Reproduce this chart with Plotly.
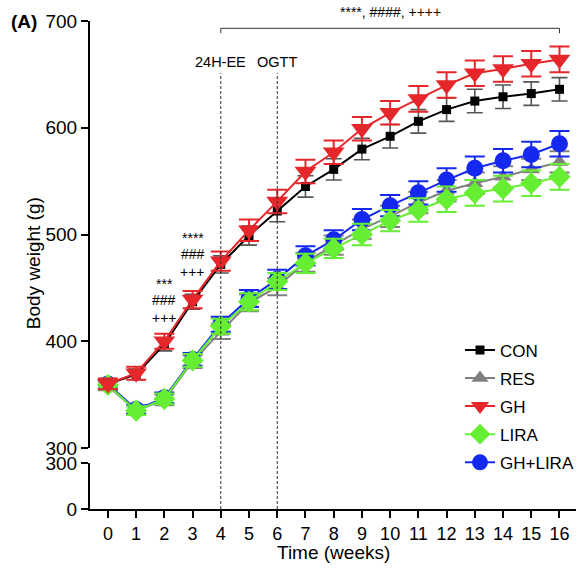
import plotly.graph_objects as go

weeks = list(range(17))
week_labels = [str(w) for w in weeks]

con = [360, 369, 397, 437, 472, 499, 522, 545, 561, 580, 592, 606, 617, 625, 629, 632, 636]
con_err = [5, 5, 6, 7, 8, 9, 10, 10, 10, 10, 11, 11, 11, 11, 11, 11, 11]
res = [358, 335, 345, 381, 409, 436, 451, 474, 490, 505, 517, 530, 541, 548, 554, 561, 568]
res_err = [4, 4, 5, 6, 7, 8, 8, 9, 9, 9, 10, 10, 10, 10, 10, 10, 10]
gh = [360, 370, 400, 439, 475, 504, 531, 559, 577, 599, 614, 627, 640, 651, 655, 660, 664]
gh_err = [5, 6, 7, 8, 9, 10, 11, 11, 11, 11, 11, 12, 12, 12, 12, 12, 12]
lira = [359, 335, 346, 382, 414, 437, 456, 473, 487, 500, 513, 523, 533, 539, 543, 548, 554]
lira_err = [4, 4, 5, 6, 7, 8, 8, 9, 9, 10, 10, 11, 12, 12, 12, 12, 12]
ghlira = [360, 336, 347, 383, 416, 440, 458, 480, 495, 514, 527, 539, 551, 562, 569, 575, 585]
ghlira_err = [4, 4, 5, 6, 7, 8, 9, 9, 9, 10, 10, 11, 11, 11, 11, 12, 12]

FONT = "Liberation Sans, Arial, sans-serif"

# (name, values, errors, color, symbol, size, legend rank) in drawing order
series = [
    ("RES", res, res_err, "#808080", "triangle-up", 15, 2),
    ("GH+LIRA", ghlira, ghlira_err, "#1428f0", "circle", 17, 5),
    ("LIRA", lira, lira_err, "#66ee33", "diamond", 17, 4),
    ("CON", con, con_err, "#000000", "square", 9, 1),
    ("GH", gh, gh_err, "#e5262b", "triangle-down", 19, 3),
]

fig = go.Figure()
for name, vals, errs, color, sym, size, rank in series:
    errcolor = "#555555" if name == "CON" else color
    fig.add_trace(go.Scatter(
        x=weeks, y=vals, name=name, mode="lines+markers",
        line=dict(color=color, width=2),
        marker=dict(color=color, symbol=sym, size=size, line=dict(width=0)),
        error_y=dict(type="data", array=errs, visible=True, color=errcolor,
                     thickness=1.6 if name == "CON" else 2, width=8 if name == "CON" else 10),
        xaxis="x", yaxis="y", legendrank=rank, legendgroup=name,
        cliponaxis=False,
    ))

# dummy trace so the lower axis segment renders
fig.add_trace(go.Scatter(x=[None], y=[None], xaxis="x", yaxis="y2",
                         showlegend=False, hoverinfo="skip"))

axis_common = dict(showline=True, linewidth=2, linecolor="black", ticks="outside",
                   ticklen=7, tickwidth=2, tickcolor="black", showgrid=False,
                   zeroline=False, color="black")

fig.update_layout(
    width=579, height=571,
    margin=dict(l=90, r=0, t=21, b=62),
    plot_bgcolor="white", paper_bgcolor="white",
    font=dict(family=FONT, color="black"),
    xaxis=dict(domain=[0, 1], range=[-0.634, 16.585], anchor="y2",
               tickvals=weeks, ticktext=week_labels, tickfont=dict(size=18), **axis_common),
    yaxis=dict(domain=[0.125, 1], range=[300, 700], anchor="x",
               tickvals=[300, 400, 500, 600, 700], tickfont=dict(size=19), **axis_common),
    yaxis2=dict(domain=[0, 0.0943], range=[0, 300], anchor="x",
                tickvals=[0, 300], tickfont=dict(size=19), **axis_common),
    showlegend=True,
    legend=dict(x=0.762, y=0.362, xanchor="left", yanchor="top",
                font=dict(size=17, family=FONT), bgcolor="rgba(0,0,0,0)",
                tracegroupgap=3, itemwidth=30, traceorder="grouped"),
)

shapes = []
for wk in [4, 6]:
    shapes.append(dict(type="line", xref="x", yref="paper", x0=wk, x1=wk, y0=0, y1=0.893,
                       line=dict(color="#333333", width=1, dash="3px,2px")))
# significance bracket
shapes.append(dict(type="line", xref="x", yref="paper", x0=4, x1=16, y0=0.985, y1=0.985,
                   line=dict(color="#333333", width=1)))
shapes.append(dict(type="line", xref="x", yref="paper", x0=4, x1=4, y0=0.985, y1=0.975,
                   line=dict(color="#333333", width=1)))
shapes.append(dict(type="line", xref="x", yref="paper", x0=16, x1=16, y0=0.985, y1=0.975,
                   line=dict(color="#333333", width=1)))
fig.update_layout(shapes=shapes)

ann = []
def A(text, x, y, xref="x", yref="y", size=14, **kw):
    ann.append(dict(text=text, x=x, y=y, xref=xref, yref=yref, showarrow=False,
                    font=dict(size=size, family=FONT, color="black"),
                    xanchor="center", yanchor="middle", **kw))

A("24H-EE", 4, 0.916, yref="paper", size=14.5)
A("OGTT", 6, 0.916, yref="paper", size=14.5)
A("****, ####, ++++", 10, 1.018, yref="paper", size=14)
A("***", 2, 454, size=14)
A("###", 2, 438.6, size=14)
A("+++", 2, 421.8, size=14)
A("****", 3, 496.5, size=14)
A("###", 3, 481.7, size=14)
A("+++", 3, 464.9, size=14)
A("Body weight (g)", -0.117, 0.504, xref="paper", yref="paper", size=19, textangle=-90)
A("Time (weeks)", 8, -0.09, yref="paper", size=19)
A("<b>(A)</b>", -0.135, 1.0, xref="paper", yref="paper", size=19)
fig.update_layout(annotations=ann)

fig.write_html("out.html", config={"displayModeBar": False},
               post_script="document.body.style.margin='0';document.body.style.overflow='hidden';")
